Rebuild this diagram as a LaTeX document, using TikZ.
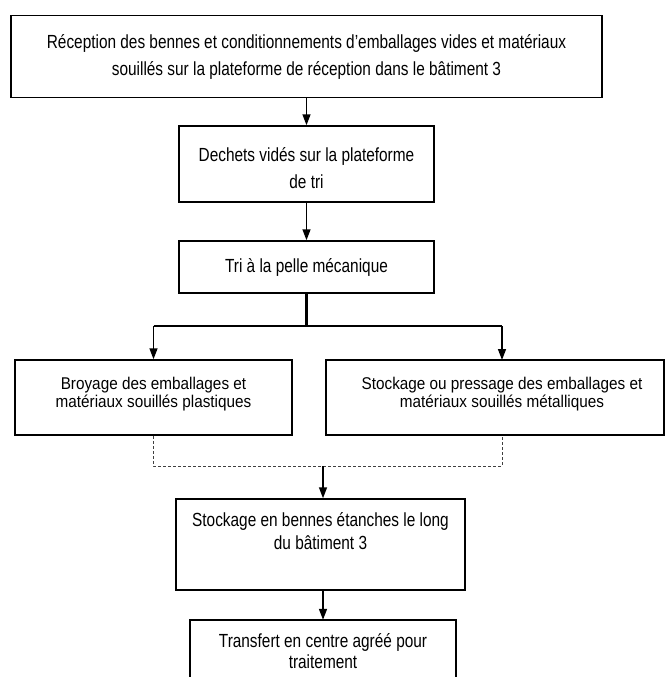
\documentclass[tikz,border=0pt]{standalone}
\usepackage{fontspec}
\setmainfont[FakeStretch=0.81]{Liberation Sans}
\newfontfamily\narrowerfont[FakeStretch=0.9]{Liberation Sans}
\usetikzlibrary{arrows.meta,calc}
\tikzset{
  box/.style={draw=black, line width=1.5pt, rectangle, align=center, inner sep=0pt,
    font=\fontsize{19}{23}\selectfont},
  openbox/.style={rectangle, align=center, inner sep=0pt,
    font=\fontsize{19}{21}\selectfont},
  conn/.style={line width=1.5pt, -{Triangle[length=11pt,width=8pt]}},
  plain/.style={line width=2.2pt},
  merge/.style={line width=0.9pt, densely dashed, black!75},
}
\begin{document}
\begin{tikzpicture}[x=1pt,y=-1pt]
\useasboundingbox (0,0) rectangle (665,677);
\node[box, minimum width=591pt, minimum height=82pt, font=\fontsize{19}{27}\selectfont] (b1) at (306.5,56.5)
  {Réception des bennes et conditionnements d'emballages vides et matériaux\\
   souillés sur la plateforme de réception dans le bâtiment 3};
\node[box, minimum width=255pt, minimum height=76pt, font=\fontsize{19}{27}\selectfont] (b2) at (306.5,164)
  {\mbox{}\\[-4pt]Dechets vidés sur la plateforme\\ de tri};
\node[box, minimum width=255pt, minimum height=52pt] (b3) at (306.5,267)
  {Tri à la pelle mécanique};
\node[box, minimum width=277pt, minimum height=75pt, font=\narrowerfont\fontsize{17}{18}\selectfont] (b4l) at (153.5,397.5)
  {Broyage des emballages et\\ matériaux souillés plastiques\\[-7pt]\mbox{}};
\node[box, minimum width=338pt, minimum height=75pt, font=\narrowerfont\fontsize{17}{18}\selectfont] (b4r) at (495,397.5)
  {\hspace*{14pt}Stockage ou pressage des emballages et\\ \hspace*{14pt}matériaux souillés métalliques\\[-7pt]\mbox{}};
\node[box, minimum width=289pt, minimum height=91pt] (b5) at (320.5,544.5)
  {Stockage en bennes étanches le long\\ du bâtiment 3\\[5pt]\mbox{}};
\node[openbox, minimum width=266pt, minimum height=57pt] (b6) at (323,648.5)
  {\mbox{}\\[-1pt]Transfert en centre agréé pour\\ traitement};
\draw[line width=1.5pt] (b6.south west) -- (b6.north west) -- (b6.north east) -- (b6.south east);

\coordinate (j) at (306.5,326);
\coordinate (jl) at (153.5,326);
\coordinate (jr) at (502,326);
\coordinate (tr) at (502,360);
\coordinate (m) at (323,466);
\coordinate (ml) at (153.5,466);
\coordinate (mr) at (502,466);
\coordinate (br) at (502,435);

\draw[conn] (b1.south) -- (b2.north);
\draw[conn] (b2.south) -- (b3.north);
\draw[plain] (b3.south) -- (j);
\draw[line width=1.5pt] (jl) -- (jr);
\draw[conn] (jl) -- (b4l.north);
\draw[conn] (jr) -- (tr);
\draw[merge] (b4l.south) -- (ml) -- (mr) -- (br);
\draw[conn] (m) -- (m |- b5.north);
\draw[conn] (m |- b5.south) -- (m |- b6.north);
\end{tikzpicture}
\end{document}
